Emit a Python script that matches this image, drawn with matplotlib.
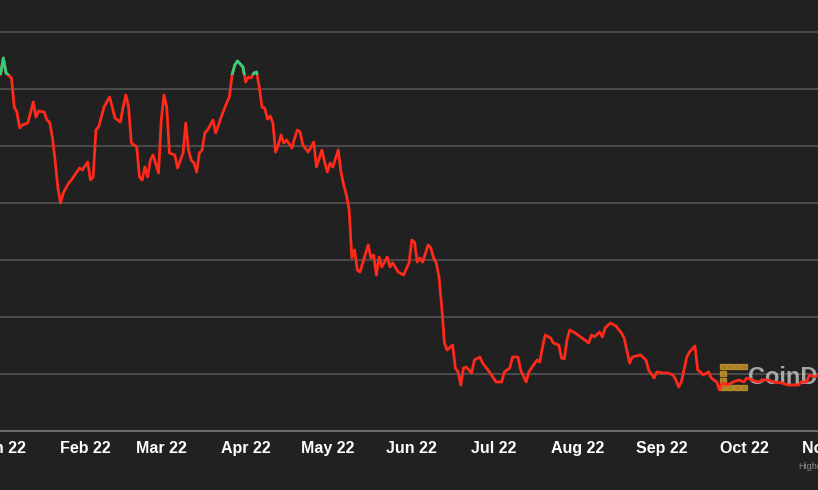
import numpy as np
import matplotlib.pyplot as plt
import matplotlib.dates as mdates
from matplotlib.patches import Rectangle

# daily closes (days after 2022-01-01, USD)
days = [0, 1, 2, 4, 5, 6, 7, 8, 10, 12, 13, 14, 16, 17, 18, 19, 20, 21, 22, 23,
        25, 26, 28, 29, 30, 32, 33, 34, 35, 36, 38, 40, 41, 42, 44, 45, 46, 47, 48, 50,
        51, 52, 53, 54, 55, 56, 58, 59, 60, 61, 62, 64, 65, 67, 68, 69, 70, 71, 72, 73,
        74, 75, 76, 78, 79, 81, 83, 84, 85, 86, 87, 89, 90, 91, 92, 93, 94, 95, 96, 97,
        98, 99, 100, 101, 102, 103, 104, 105, 107, 108, 109, 110, 111, 113, 115, 116, 118, 119, 120, 121,
        122, 124, 125, 126, 127, 128, 129, 130, 131, 132, 133, 135, 136, 137, 138, 139, 140, 142, 143, 144,
        146, 148, 150, 151, 152, 153, 154, 155, 157, 158, 159, 160, 161, 162, 163, 164, 166, 167, 168, 169,
        170, 171, 173, 174, 176, 177, 179, 182, 184, 185, 187, 188, 190, 191, 193, 194, 196, 197, 198, 199,
        200, 202, 203, 205, 206, 207, 208, 209, 211, 213, 216, 217, 218, 220, 221, 222, 224, 226, 228, 229,
        231, 232, 235, 237, 238, 240, 241, 243, 245, 247, 248, 249, 250, 252, 253, 255, 256, 257, 258, 260,
        261, 263, 264, 265, 267, 269, 271, 273, 274, 276, 278, 280, 282, 284, 287, 289, 293, 294, 296, 297,
        299, 300]
prices = [46300, 47720, 46400, 45970, 43420, 42980, 41580, 41840, 42020, 43860, 42540, 43070, 42980, 42280, 42100, 40790, 38770, 36400, 35000, 35880,
          36750, 37020, 37720, 38070, 37900, 38600, 37020, 37280, 41400, 41670, 43420, 44300, 43420, 42460, 42100, 43420, 44470, 43420, 40260, 39910,
          37280, 37020, 38160, 37280, 38770, 39210, 37630, 42280, 44470, 43420, 39390, 39210, 38070, 39390, 42020, 39650, 38770, 38510, 37720, 39390,
          39650, 41140, 41400, 42280, 41140, 42540, 43770, 44300, 46230, 47100, 47460, 46930, 45610, 46050, 45970, 46400, 46490, 45180, 43420, 43330,
          42370, 42630, 42020, 39470, 40090, 40970, 40260, 40530, 39830, 40700, 41400, 41230, 40090, 39470, 40350, 38160, 39650, 38600, 37720, 38510,
          38160, 39650, 37720, 36580, 35700, 34390, 30180, 30880, 29120, 28950, 29740, 31320, 30180, 30440, 28680, 30260, 29390, 30260, 29390, 29740,
          28950, 28680, 29740, 31750, 31580, 29820, 30180, 29820, 31320, 31050, 30180, 29740, 28510, 25880, 22720, 22100, 22540, 20530, 20180, 19040,
          20530, 20610, 20090, 21230, 21490, 20960, 20350, 19300, 19300, 20180, 20530, 21490, 21490, 20350, 19300, 20180, 20880, 21230, 21050, 22370,
          23420, 23160, 22720, 22540, 21400, 21320, 22980, 23860, 23600, 23250, 22720, 23420, 23250, 23680, 23250, 24040, 24470, 24210, 23600, 23160,
          20960, 21490, 21670, 21230, 20350, 19650, 20180, 20090, 20090, 19910, 19470, 18860, 19300, 21490, 21930, 22460, 20350, 20180, 19910, 20180,
          19650, 19300, 18600, 19210, 19040, 19300, 19470, 19300, 19650, 19470, 19300, 19470, 19470, 19300, 19210, 19040, 19040, 19300, 19300, 19910,
          19740, 19910]
threshold = 46230  # line turns green above this
y_grid = [20000, 25000, 30000, 35000, 40000, 45000, 50000]

bg = '#212121'
W, H = 818, 490
start = np.datetime64('2022-01-01')
x = mdates.date2num(start + np.array(days).astype('timedelta64[D]'))
x0 = mdates.date2num(start)

fig = plt.figure(figsize=(W / 100, H / 100), dpi=100, facecolor=bg)
# plot area is wider than the picture, as in the cropped screenshot
left_px, right_px, bottom_px = -30, 850, 431
ax = fig.add_axes([left_px / W, 1 - bottom_px / H, (right_px - left_px) / W, bottom_px / H])
ax.set_facecolor(bg)

px_per_day = 2.723
ax.set_xlim(x0 + (left_px - 0.6) / px_per_day, x0 + (right_px - 0.6) / px_per_day)
ax.set_ylim(15000, 15000 + bottom_px * 5000 / 57)

ax.plot(x, prices, color='#ff2a1a', lw=2.0, solid_joinstyle='round', zorder=3)
green, = ax.plot(x, prices, color='#2fd27a', lw=2.0, solid_joinstyle='round', zorder=4)
clip = Rectangle((x[0] - 50, threshold), 500, 20000, transform=ax.transData)
green.set_clip_path(clip)

ax.set_yticks(y_grid)
ax.yaxis.grid(True, color='#4a4a4a', lw=1.5)
ax.set_axisbelow(True)
ax.tick_params(axis='y', length=0, labelleft=False)

ax.xaxis.set_major_locator(mdates.MonthLocator())
ax.xaxis.set_major_formatter(mdates.DateFormatter('%b %y'))
ax.tick_params(axis='x', length=0, pad=7.5, colors='white', labelsize=11.5)
for lab in ax.get_xticklabels():
    lab.set_fontfamily('Liberation Sans')
    lab.set_fontweight('bold')

for s in ['left', 'right', 'top']:
    ax.spines[s].set_visible(False)
ax.spines['bottom'].set_color('#6a6a6a')
ax.spines['bottom'].set_linewidth(1.5)

# CoinDesk watermark, under the price line
def fx(px):
    return px / W

def fy(py):
    return 1 - py / H

cell = 7
for col in range(4):
    for row in range(4):
        if not (row in (0, 3) or col == 0):
            continue
        ax.add_patch(Rectangle((fx(720 + col * cell), fy(363 + (row + 1) * cell - 1)),
                               (cell - 1.5) / W, (cell - 1.5) / H,
                               transform=fig.transFigure, color='#c9962a',
                               alpha=0.8, zorder=2, clip_on=False))
ax.text(fx(748), fy(377), 'CoinDesk', fontsize=17, fontweight='bold',
        family='Liberation Sans', color='#d2d2d2', alpha=0.75, va='center',
        transform=fig.transFigure, zorder=2, clip_on=False)
fig.text(fx(798), fy(466), 'Highcharts.com', fontsize=6.5, color='#8a8a8a', va='center',
         family='Liberation Sans')

fig.savefig('out.png', dpi=100, facecolor=bg)
